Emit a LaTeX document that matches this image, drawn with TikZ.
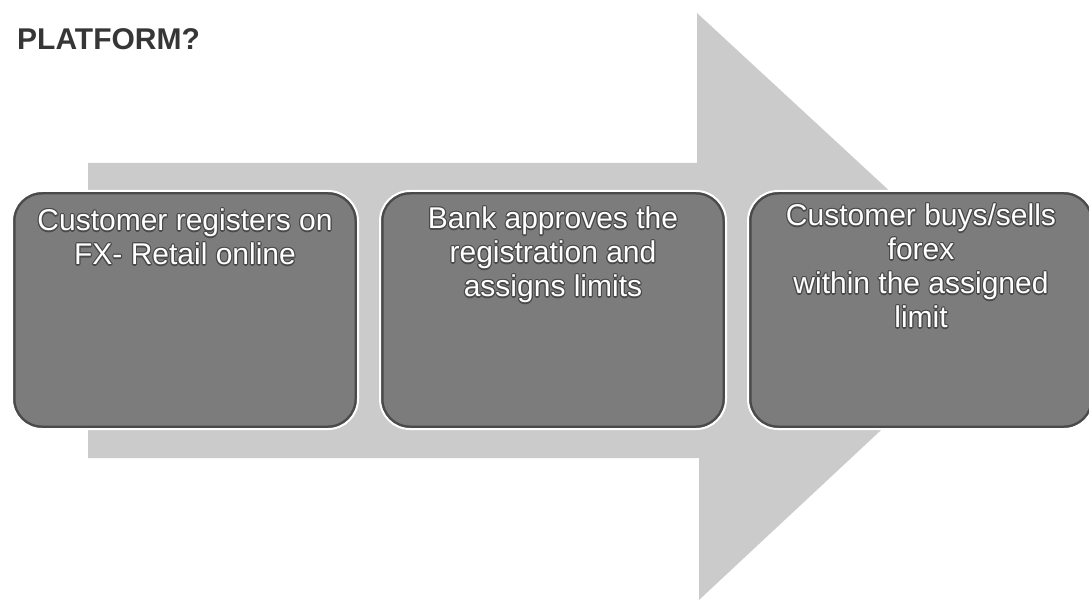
\documentclass[tikz,border=0pt]{standalone}
\usepackage{fontspec}
\setmainfont{Liberation Sans}
\usepackage{contour}
\contourlength{1.1pt}
\contournumber{12}
\usetikzlibrary{positioning}

\definecolor{arrowgray}{HTML}{CBCBCB}
\definecolor{boxgray}{HTML}{7C7C7C}
\definecolor{boxrim}{HTML}{4A4A4A}
\definecolor{titlegray}{HTML}{363636}
\newcommand{\stepfont}{\fontsize{30}{34}\selectfont}
\newcommand{\glow}[1]{\contour{boxrim}{#1}}

\begin{document}
\begin{tikzpicture}[x=1pt, y=-1pt,
    stepbox/.style = {rectangle, rounded corners=30pt, minimum width=346pt, minimum height=238pt,
        fill=boxgray, draw=white, line width=2pt,
        path picture={\draw[boxrim, line width=7pt, rounded corners=30pt]
            (path picture bounding box.south west) rectangle (path picture bounding box.north east);}},
    steptext/.style = {text=white, align=center, inner sep=0pt, font=\stepfont}]
        \useasboundingbox (0,0) rectangle (1089,601);

        \node[anchor=base west, inner sep=0pt, text=titlegray, font=\fontsize{30}{36}\selectfont\bfseries] (title) at (17,50) {PLATFORM?};

        \fill[arrowgray] (88,163) -- (697,163) -- (697,13) -- (1014,306) -- (699,600) -- (699,458) -- (88,458) -- cycle;

        \node[stepbox] (s1) at (185,310) {};
        \node[stepbox] (s2) [right=20pt of s1] {};
        \node[stepbox] (s3) [right=20pt of s2] {};

        \node[steptext] (t1) [below=19pt of s1.north] {\glow{Customer registers on}\\\glow{FX- Retail online}};
        \node[steptext] (t2) [below=17pt of s2.north] {\glow{Bank approves the}\\\glow{registration and}\\\glow{assigns limits}};
        \node[steptext] (t3) [below=14pt of s3.north] {\glow{Customer buys/sells}\\\glow{forex}\\\glow{within the assigned}\\\glow{limit}};
    \end{tikzpicture}
\end{document}
